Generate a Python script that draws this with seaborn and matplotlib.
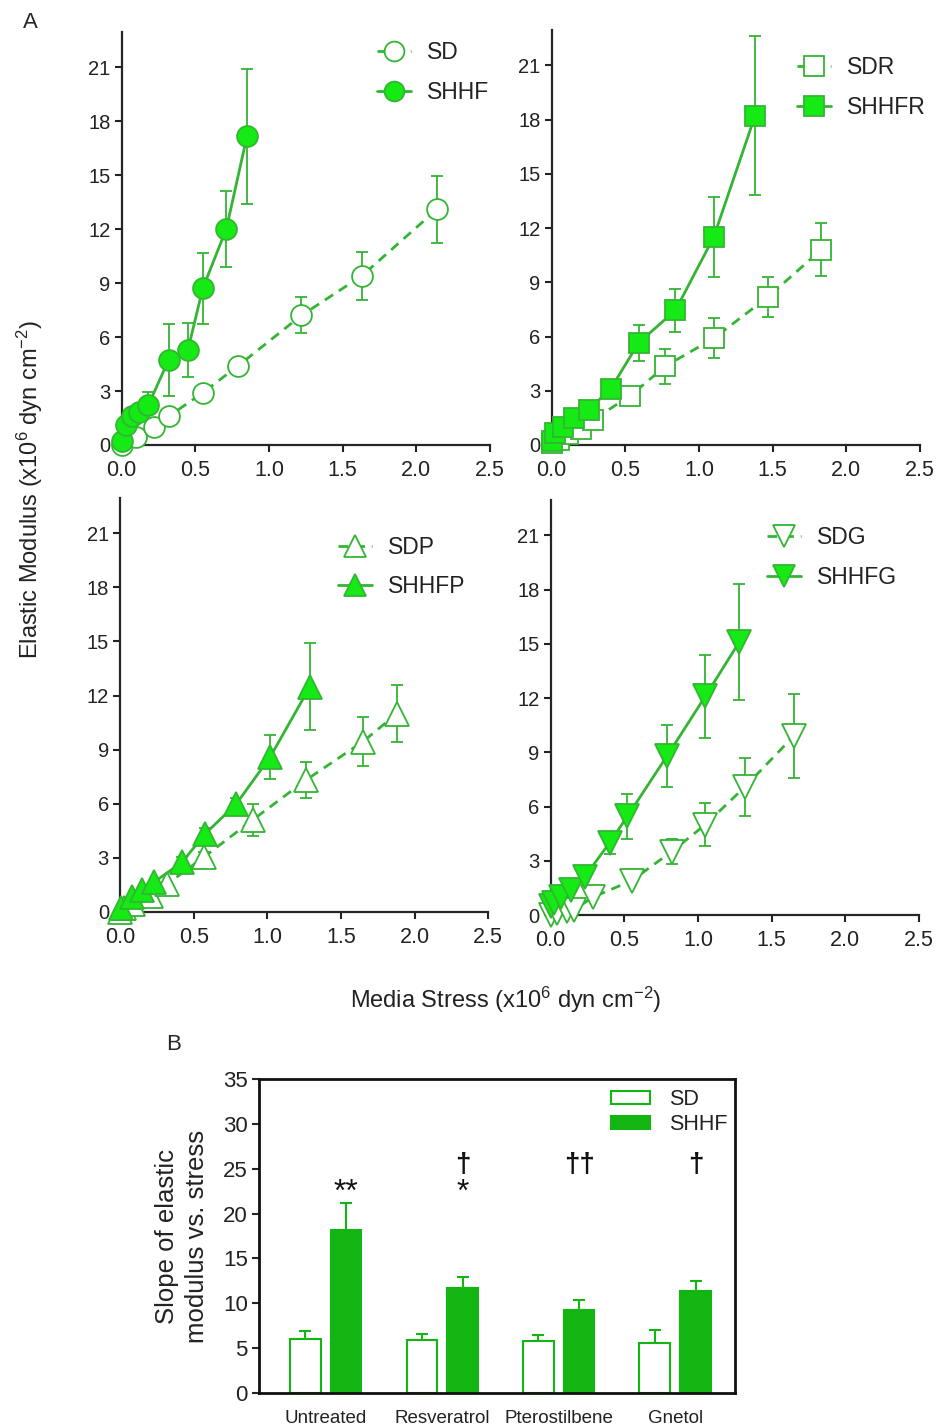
import numpy as np
import pandas as pd
import seaborn as sns
import matplotlib
matplotlib.use("Agg")
import matplotlib.pyplot as plt
from matplotlib.lines import Line2D
from matplotlib.patches import Patch

# ---------------- data ----------------
sd_x = [0.0, 0.10, 0.22, 0.32, 0.55, 0.79, 1.22, 1.63, 2.14]
sd_y = [0.0, 0.45, 1.0, 1.6, 2.9, 4.4, 7.2, 9.4, 13.1]
sd_e = [0, 0, 0, 0, 0, 0.4, 1.0, 1.35, 1.85]
shhf_x = [0.0, 0.03, 0.07, 0.12, 0.18, 0.32, 0.45, 0.55, 0.71, 0.85]
shhf_y = [0.2, 1.1, 1.6, 1.85, 2.2, 4.75, 5.3, 8.7, 12.0, 17.15]
shhf_e = [0, 0, 0, 0, 0.75, 2.0, 1.5, 1.95, 2.1, 3.75]

sdr_x = [0.0, 0.05, 0.11, 0.20, 0.28, 0.53, 0.77, 1.10, 1.47, 1.83]
sdr_y = [0.1, 0.3, 0.6, 0.9, 1.4, 2.7, 4.35, 5.9, 8.2, 10.8]
sdr_e = [0, 0, 0, 0, 0, 0.4, 0.95, 1.1, 1.1, 1.45]
shhfr_x = [0.0, 0.02, 0.08, 0.15, 0.25, 0.40, 0.59, 0.84, 1.10, 1.38]
shhfr_y = [0.2, 0.65, 1.0, 1.5, 1.95, 3.1, 5.65, 7.45, 11.5, 18.2]
shhfr_e = [0, 0, 0, 0, 0, 0.3, 1.0, 1.2, 2.2, 4.4]

sdp_x = [0.0, 0.03, 0.09, 0.21, 0.32, 0.57, 0.90, 1.26, 1.65, 1.88]
sdp_y = [0.0, 0.2, 0.45, 0.9, 1.55, 3.05, 5.1, 7.3, 9.45, 11.0]
sdp_e = [0, 0, 0, 0, 0, 0.3, 0.9, 1.0, 1.35, 1.6]
shhfp_x = [0.01, 0.08, 0.15, 0.23, 0.42, 0.58, 0.79, 1.02, 1.29]
shhfp_y = [0.2, 0.85, 1.2, 1.65, 2.75, 4.35, 6.0, 8.6, 12.5]
shhfp_e = [0, 0, 0, 0, 0.3, 0.3, 0.3, 1.2, 2.4]

sdg_x = [0.0, 0.04, 0.11, 0.16, 0.29, 0.55, 0.82, 1.05, 1.32, 1.65]
sdg_y = [0.0, 0.1, 0.2, 0.3, 1.0, 1.9, 3.5, 5.0, 7.1, 9.9]
sdg_e = [0, 0, 0, 0, 0, 0, 0.7, 1.2, 1.6, 2.3]
shhfg_x = [0.0, 0.02, 0.07, 0.14, 0.23, 0.40, 0.52, 0.79, 1.05, 1.28]
shhfg_y = [0.5, 0.65, 1.0, 1.4, 2.1, 4.0, 5.45, 8.8, 12.1, 15.1]
shhfg_e = [0, 0, 0, 0, 0, 0.6, 1.25, 1.7, 2.3, 3.2]

categories = ["Untreated", "Resveratrol", "Pterostilbene", "Gnetol"]
groups = ["SD", "SHHF"]
sd_slope = [6.0, 5.87, 5.76, 5.58]
sd_slope_err = [0.9, 0.75, 0.75, 1.4]
shhf_slope = [18.15, 11.7, 9.2, 11.4]
shhf_slope_err = [3.05, 1.2, 1.2, 1.1]
star_marks = ["**", "*", "", ""]
dagger_marks = ["", "\u2020", "\u2020\u2020", "\u2020"]

x_ticks = [0.0, 0.5, 1.0, 1.5, 2.0, 2.5]
y_ticks = [0, 3, 6, 9, 12, 15, 18, 21]
bar_ticks = [0, 5, 10, 15, 20, 25, 30, 35]

# ---------------- style ----------------
sns.set_theme(style="ticks")
plt.rcParams["font.family"] = ["Liberation Sans", "DejaVu Sans"]
plt.rcParams["mathtext.default"] = "regular"
plt.rcParams["axes.linewidth"] = 1.6

LINE = "#33b533"
FILL = "#15ea15"
BAR = "#12b512"
TXT = "#222222"

W, H = 938, 1428
fig = plt.figure(figsize=(W / 100, H / 100), dpi=100)


def px_axes(left, top, right, bottom):
    return fig.add_axes([left / W, 1 - bottom / H, (right - left) / W, (bottom - top) / H])


panels = [
    dict(box=(121.7, 32, 490, 445), marker="o", ms=15,
         sd=(sd_x, sd_y, sd_e, "SD"), sh=(shhf_x, shhf_y, shhf_e, "SHHF"), leg=(0.693, 0.978)),
    dict(box=(551.7, 30, 920, 445), marker="s", ms=15,
         sd=(sdr_x, sdr_y, sdr_e, "SDR"), sh=(shhfr_x, shhfr_y, shhfr_e, "SHHFR"), leg=(0.666, 0.937)),
    dict(box=(120, 498, 488.3, 912), marker="^", ms=17,
         sd=(sdp_x, sdp_y, sdp_e, "SDP"), sh=(shhfp_x, shhfp_y, shhfp_e, "SHHFP"), leg=(0.592, 0.909)),
    dict(box=(550.7, 500, 919, 915), marker="v", ms=17,
         sd=(sdg_x, sdg_y, sdg_e, "SDG"), sh=(shhfg_x, shhfg_y, shhfg_e, "SHHFG"), leg=(0.587, 0.937)),
]

for p in panels:
    ax = px_axes(*p["box"])
    handles = []
    for key, ls, face in (("sd", (0, (3.5, 2.5)), "white"), ("sh", "-", FILL)):
        xs, ys, es, lab = p[key]
        df = pd.DataFrame({"x": xs, "y": ys})
        ax.errorbar(xs, ys, yerr=es, fmt="none", ecolor=LINE, elinewidth=1.3,
                    capsize=4, capthick=1.3, zorder=2, clip_on=False)
        sns.lineplot(data=df, x="x", y="y", ax=ax, sort=False, estimator=None,
                     color=LINE, linewidth=2.0, linestyle=ls, marker=p["marker"],
                     markersize=p["ms"], markerfacecolor=face, markeredgecolor=LINE,
                     markeredgewidth=1.3, clip_on=False, zorder=3)
        handles.append(Line2D([], [], color=LINE, linewidth=2.0, linestyle=ls,
                              marker=p["marker"], markersize=p["ms"] * 0.95,
                              markerfacecolor=face, markeredgecolor=LINE,
                              markeredgewidth=1.3, label=lab))
    ax.set_xlim(0, 2.5)
    ax.set_ylim(0, 22.95)
    ax.set_xticks(x_ticks)
    ax.set_xticklabels([f"{t:.1f}" for t in x_ticks])
    ax.set_yticks(y_ticks)
    ax.set_xlabel("")
    ax.set_ylabel("")
    ax.tick_params(length=5, width=1.5, colors="#222222", labelcolor=TXT)
    ax.tick_params(axis="x", labelsize=15.5, pad=6)
    ax.tick_params(axis="y", labelsize=14.5, pad=3)
    sns.despine(ax=ax)
    ax.legend(handles=handles, loc="upper left", bbox_to_anchor=p["leg"],
              frameon=False, fontsize=16.5, handlelength=1.5, handletextpad=0.7,
              labelspacing=0.72, borderpad=0, borderaxespad=0, labelcolor=TXT)

fig.text(30 / W, 1 - 22 / H, "A", fontsize=16, ha="center", va="center")
fig.text(30 / W, 1 - 490 / H, "Elastic Modulus (x10$^6$ dyn cm$^{-2}$)",
         rotation=90, fontsize=17, ha="center", va="center", color=TXT)
fig.text(506 / W, 1 - 1000 / H, "Media Stress (x10$^6$ dyn cm$^{-2}$)",
         fontsize=17, ha="center", va="center", color=TXT)
fig.text(174 / W, 1 - 1044 / H, "B", fontsize=16, ha="center", va="center")

# ---------------- bar chart ----------------
bx = px_axes(259, 1079, 735, 1393)
bar_df = pd.DataFrame({
    "treatment": categories * 2,
    "group": ["SD"] * 4 + ["SHHF"] * 4,
    "slope": sd_slope + shhf_slope,
})
sns.barplot(data=bar_df, x="treatment", y="slope", hue="group", order=categories,
            hue_order=groups, palette={"SD": "white", "SHHF": BAR}, edgecolor=BAR,
            saturation=1, linewidth=1.5, width=0.7, gap=0.25, errorbar=None,
            legend=False, ax=bx)
errs = {"SD": sd_slope_err, "SHHF": shhf_slope_err}
shhf_centers = []
for cont, g in zip(bx.containers, groups):
    cx = [b.get_x() + b.get_width() / 2 for b in cont]
    cy = [b.get_height() for b in cont]
    bx.errorbar(cx, cy, yerr=[[0] * len(cy), errs[g]], fmt="none", ecolor=BAR,
                elinewidth=1.5, capsize=4.5, capthick=1.5, zorder=0)
    if g == "SHHF":
        shhf_centers = cx
for cxv, s, d in zip(shhf_centers, star_marks, dagger_marks):
    if s:
        bx.text(cxv, 22.3, s, ha="center", va="center", fontsize=23, color="#111111")
    if d:
        bx.text(cxv, 25.4, d, ha="center", va="center", fontsize=20,
                fontweight="bold", color="#111111")
bx.set_xlim(-0.574, 3.514)
bx.set_ylim(0, 35)
bx.set_yticks(bar_ticks)
bx.set_xlabel("")
bx.set_ylabel("Slope of elastic\nmodulus vs. stress", fontsize=18.5, color=TXT,
              labelpad=10, linespacing=1.3)
bx.tick_params(axis="y", labelsize=16, length=5, width=1.5, pad=3, labelcolor=TXT)
bx.tick_params(axis="x", labelsize=13.5, length=0, pad=12, labelcolor=TXT)
for sp in bx.spines.values():
    sp.set_linewidth(2.0)
    sp.set_color("#111111")
bleg = [Patch(facecolor="white", edgecolor=BAR, linewidth=1.5, label="SD"),
        Patch(facecolor=BAR, edgecolor=BAR, linewidth=1.5, label="SHHF")]
bx.legend(handles=bleg, loc="upper left", bbox_to_anchor=(0.740, 0.968), frameon=False,
          fontsize=15.5, handlelength=1.8, handleheight=0.55, handletextpad=0.9,
          labelspacing=0.2, borderpad=0, borderaxespad=0, labelcolor=TXT)

fig.savefig("out.png", dpi=100)
